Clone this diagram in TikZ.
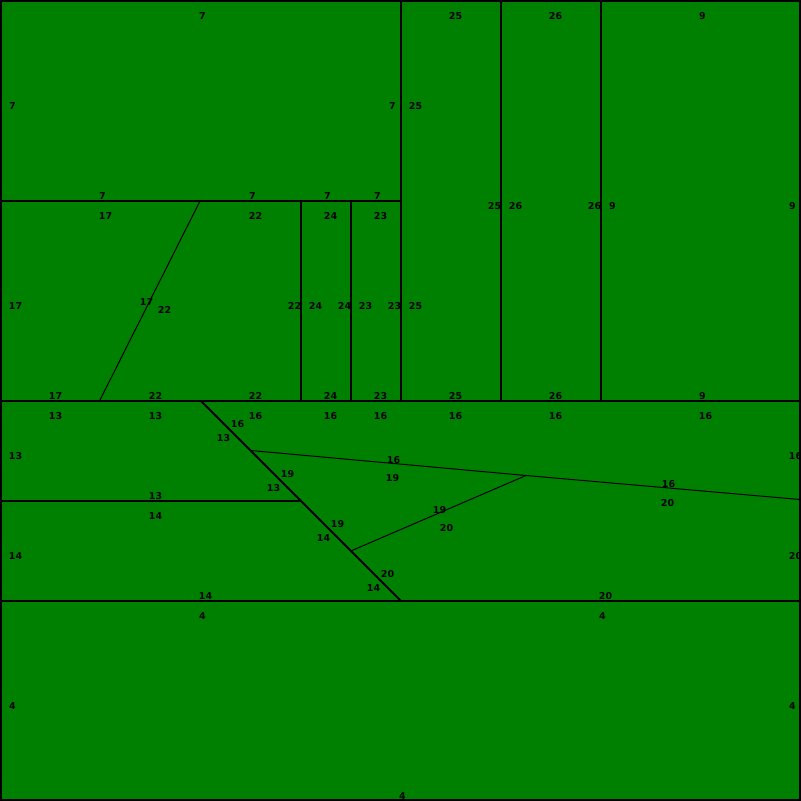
\documentclass[tikz,border=0pt]{standalone}
\usepackage{fontspec}
\usepackage{xcolor}
\usepackage{tikz}
\usetikzlibrary{positioning}
\setmainfont{DejaVu Sans}
\definecolor{fieldgreen}{RGB}{0,128,0}

\begin{document}
\begin{tikzpicture}[
			x=1pt, y=-1pt,
			font=\fontsize{9.5}{9.5}\selectfont\bfseries,
			edge/.style={line width=2pt},
			fine/.style={line width=1pt},
			lbl/.style={inner sep=0pt, text=black}
			]
			\useasboundingbox (0,0) rectangle (801,801);
			\fill[fieldgreen] (0,0) rectangle (801,801);
			
			% corner points
			\coordinate (tl) at (1,1);
			\coordinate (br) at (800,800);
			\coordinate (a1) at (0,200.5);
			\coordinate (a2) at (400,200.5);
			\coordinate (v4t) at (400.5,0);
			\coordinate (v4b) at (400.5,400);
			\coordinate (v5t) at (500.5,0);
			\coordinate (v5b) at (500.5,400);
			\coordinate (v6t) at (600.5,0);
			\coordinate (v6b) at (600.5,400);
			\coordinate (h4l) at (0,400.5);
			\coordinate (h4r) at (800,400.5);
			\coordinate (s1) at (200,201);
			\coordinate (s2) at (100,400);
			\coordinate (v3t) at (300.5,200);
			\coordinate (v3b) at (300.5,400);
			\coordinate (v35t) at (350.5,200);
			\coordinate (v35b) at (350.5,400);
			\coordinate (h5l) at (0,500.5);
			\coordinate (h5r) at (300,500.5);
			\coordinate (d1) at (201,401);
			\coordinate (d2) at (400.5,600.5);
			\coordinate (p1) at (251,450.5);
			\coordinate (p2) at (526,475.5);
			\coordinate (p3) at (800,499.5);
			\coordinate (q1) at (352,550.5);
			\coordinate (h6l) at (0,600.5);
			\coordinate (h6r) at (800,600.5);
			
			\draw[edge] (tl) rectangle (br);
			\draw[edge] (a1) -- (a2);
			\draw[edge] (v4t) -- (v4b);
			\draw[edge] (v5t) -- (v5b);
			\draw[edge] (v6t) -- (v6b);
			\draw[edge] (h4l) -- (h4r);
			\draw[fine] (s1) -- (s2);
			\draw[edge] (v3t) -- (v3b);
			\draw[edge] (v35t) -- (v35b);
			\draw[edge] (h5l) -- (h5r);
			\draw[edge] (d1) -- (d2);
			\draw[fine] (p1) -- (p2) -- (p3);
			\draw[fine] (q1) -- (p2);
			\draw[edge] (h6l) -- (h6r);
			
			% labels 7
			\node[lbl] (n7a) at (202.5,16) {7};
			\node[lbl] (n7b) at (12.5,106) {7};
			\node[lbl] (n7c) at (392.5,106) {7};
			\node[lbl] (n7d) at (102.5,196) {7};
			\node[lbl] (n7e) at (252.5,196) {7};
			\node[lbl] (n7f) at (327.5,196) {7};
			\node[lbl] (n7g) at (377.5,196) {7};
			% labels 25
			\node[lbl] (n25a) at (455.5,16) {25};
			\node[lbl] (n25b) at (415.5,106) {25};
			\node[lbl] (n25c) at (494.5,206) {25};
			\node[lbl] (n25d) at (415.5,306) {25};
			\node[lbl] (n25e) at (455.5,396) {25};
			% labels 26
			\node[lbl] (n26a) at (555.5,16) {26};
			\node[lbl] (n26b) at (515.5,206) {26};
			\node[lbl] (n26c) at (594.5,206) {26};
			\node[lbl] (n26d) at (555.5,396) {26};
			% labels 9
			\node[lbl] (n9a) at (702.5,16) {9};
			\node[lbl] (n9b) at (612.5,206) {9};
			\node[lbl] (n9c) at (792.5,206) {9};
			\node[lbl] (n9d) at (702.5,396) {9};
			% labels 17
			\node[lbl] (n17a) at (105.5,216) {17};
			\node[lbl] (n17b) at (15.5,306) {17};
			\node[lbl] (n17c) at (146.5,302) {17};
			\node[lbl] (n17d) at (55.5,396) {17};
			% labels 22
			\node[lbl] (n22a) at (255.5,216) {22};
			\node[lbl] (n22b) at (164.5,310) {22};
			\node[lbl] (n22c) at (294.5,306) {22};
			\node[lbl] (n22d) at (155.5,396) {22};
			\node[lbl] (n22e) at (255.5,396) {22};
			% labels 24
			\node[lbl] (n24a) at (330.5,216) {24};
			\node[lbl] (n24b) at (315.5,306) {24};
			\node[lbl] (n24c) at (344.5,306) {24};
			\node[lbl] (n24d) at (330.5,396) {24};
			% labels 23
			\node[lbl] (n23a) at (380.5,216) {23};
			\node[lbl] (n23b) at (365.5,306) {23};
			\node[lbl] (n23c) at (394.5,306) {23};
			\node[lbl] (n23d) at (380.5,396) {23};
			% labels 13
			\node[lbl] (n13a) at (55.5,416) {13};
			\node[lbl] (n13b) at (155.5,416) {13};
			\node[lbl] (n13c) at (15.5,456) {13};
			\node[lbl] (n13d) at (223.5,438) {13};
			\node[lbl] (n13e) at (273.5,488) {13};
			\node[lbl] (n13f) at (155.5,496) {13};
			% labels 16
			\node[lbl] (n16a) at (255.5,416) {16};
			\node[lbl] (n16b) at (330.5,416) {16};
			\node[lbl] (n16c) at (380.5,416) {16};
			\node[lbl] (n16d) at (455.5,416) {16};
			\node[lbl] (n16e) at (555.5,416) {16};
			\node[lbl] (n16f) at (705.5,416) {16};
			\node[lbl] (n16g) at (237.5,424) {16};
			\node[lbl] (n16h) at (393.5,460) {16};
			\node[lbl] (n16i) at (668.5,484) {16};
			\node[lbl] (n16j) at (795.5,456) {16};
			% labels 19
			\node[lbl] (n19a) at (287.5,474) {19};
			\node[lbl] (n19b) at (392.5,478) {19};
			\node[lbl] (n19c) at (337.5,524) {19};
			\node[lbl] (n19d) at (439.5,510) {19};
			% labels 14
			\node[lbl] (n14a) at (155.5,516) {14};
			\node[lbl] (n14b) at (15.5,556) {14};
			\node[lbl] (n14c) at (323.5,538) {14};
			\node[lbl] (n14d) at (373.5,588) {14};
			\node[lbl] (n14e) at (205.5,596) {14};
			% labels 20
			\node[lbl] (n20a) at (387.5,574) {20};
			\node[lbl] (n20b) at (446.5,528) {20};
			\node[lbl] (n20c) at (667.5,503) {20};
			\node[lbl] (n20d) at (795.5,556) {20};
			\node[lbl] (n20e) at (605.5,596) {20};
			% labels 4
			\node[lbl] (n4a) at (202.5,616) {4};
			\node[lbl] (n4b) at (602.5,616) {4};
			\node[lbl] (n4c) at (12.5,706) {4};
			\node[lbl] (n4d) at (792.5,706) {4};
			\node[lbl] (n4e) at (402.5,796) {4};
		\end{tikzpicture}
\end{document}
